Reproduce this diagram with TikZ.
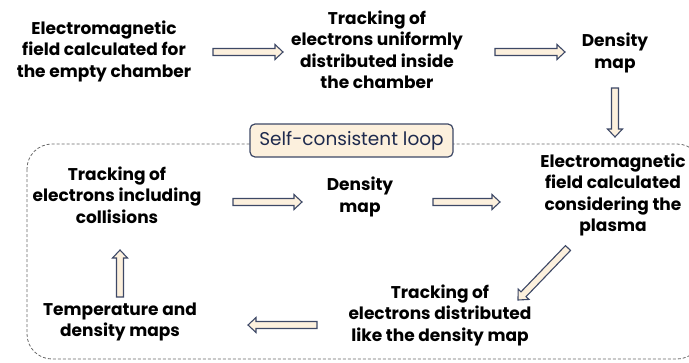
\documentclass[tikz,border=0pt]{standalone}
\usepackage{fontspec}
\setmainfont{Poppins}
\usetikzlibrary{calc}
\definecolor{arrowfill}{HTML}{FCF0DD}
\definecolor{arrowline}{HTML}{3D4866}
\definecolor{labelink}{HTML}{1E2A4E}
\definecolor{loopline}{HTML}{6A6A6A}
\tikzset{
  stage/.style={align=center, font=\fontsize{17}{21.5}\selectfont\bfseries, text=black, inner sep=0pt},
  fat/.style={draw=arrowline, fill=arrowfill, line width=1.1pt, line join=miter},
  loopframe/.style={draw=loopline, dashed, dash pattern=on 3pt off 2pt, line width=0.8pt, rounded corners=25pt},
  looptag/.style={draw=arrowline, fill=arrowfill, line width=1.2pt, rounded corners=5pt,
    text=labelink, font=\fontsize{18.5}{20}\selectfont, minimum width=203pt, minimum height=33pt, inner sep=0pt}
}
% hollow block arrow between two named points
\newcommand\fatarrow[2]{%
  \coordinate (fa-h) at ($(#2)!8pt!(#1)$);
  \draw[fat] ($(#1)!3.5pt!90:(#2)$) -- ($(fa-h)!3.5pt!-90:(#1)$) -- ($(fa-h)!7.5pt!-90:(#1)$)
    -- (#2) -- ($(fa-h)!7.5pt!90:(#1)$) -- ($(fa-h)!3.5pt!90:(#1)$) -- ($(#1)!3.5pt!-90:(#2)$) -- cycle;}
\begin{document}
\begin{tikzpicture}[x=1pt, y=-1pt]
\useasboundingbox (0,0) rectangle (689,362);

% self-consistent loop frame
\draw[loopframe] (27,144) rectangle (702,359);
\node[looptag] (tag) at (351.5,140.5) {Self-consistent loop};

% stages
\node[stage] (emA) at (104,51) {Electromagnetic\\field calculated for\\the empty chamber};
\node[stage] (trA) at (377,50) {Tracking of\\electrons uniformly\\distributed inside\\the chamber};
\node[stage] (dmA) at (615,53) {Density\\map};
\node[stage] (emB) at (613,195) {Electromagnetic\\field calculated\\considering the\\plasma};
\node[stage] (trB) at (440,315) {Tracking of\\electrons distributed\\like the density map};
\node[stage] (tdm) at (120,322) {Temperature and\\density maps};
\node[stage] (trC) at (117,195) {Tracking of\\electrons including\\collisions};
\node[stage] (dmB) at (360,197) {Density\\map};

% arrow end points
\coordinate (a1s) at (213,52);  \coordinate (a1e) at (283,52);
\coordinate (a2s) at (495,52);  \coordinate (a2e) at (565,52);
\coordinate (a3s) at (615,88);  \coordinate (a3e) at (615,137);
\coordinate (a4s) at (568,248); \coordinate (a4e) at (518,300);
\coordinate (a5s) at (317,325); \coordinate (a5e) at (248,325);
\coordinate (a6s) at (120,297); \coordinate (a6e) at (120,250);
\coordinate (a7s) at (233,202); \coordinate (a7e) at (302,202);
\coordinate (a8s) at (433,202); \coordinate (a8e) at (500,202);

\fatarrow{a1s}{a1e}
\fatarrow{a2s}{a2e}
\fatarrow{a3s}{a3e}
\fatarrow{a4s}{a4e}
\fatarrow{a5s}{a5e}
\fatarrow{a6s}{a6e}
\fatarrow{a7s}{a7e}
\fatarrow{a8s}{a8e}
\end{tikzpicture}
\end{document}
